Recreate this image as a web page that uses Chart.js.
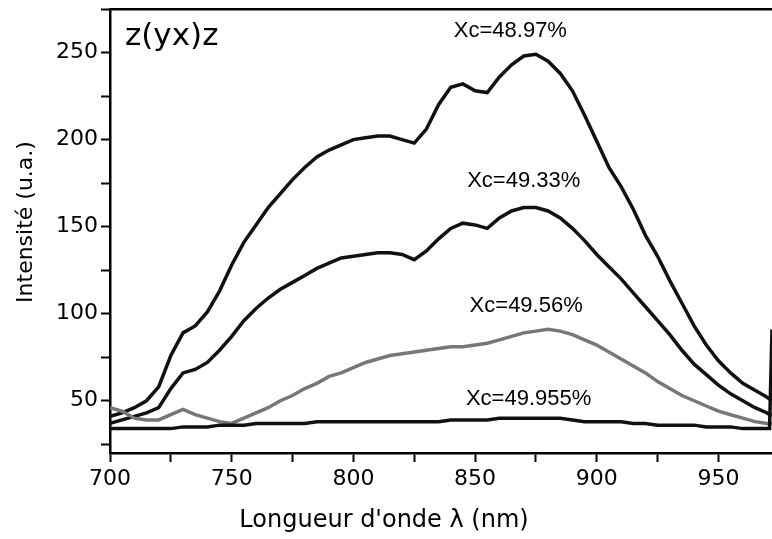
<!DOCTYPE html>
<html>
<head>
<meta charset="utf-8">
<script src="https://cdn.jsdelivr.net/npm/chart.js@4.4.0/dist/chart.umd.min.js"></script>
<style>
  html, body { margin: 0; padding: 0; background: #fff; }
  #wrap { width: 772px; height: 539px; }
</style>
</head>
<body>
<div id="wrap"><canvas id="chart"></canvas></div>
<script>
// longueurs d'onde (nm)
const wavelengths = [
  700, 705, 710, 715, 720, 725, 730, 735, 740, 745,
  750, 755, 760, 765, 770, 775, 780, 785, 790, 795,
  800, 805, 810, 815, 820, 825, 830, 835, 840, 845,
  850, 855, 860, 865, 870, 875, 880, 885, 890, 895,
  900, 905, 910, 915, 920, 925, 930, 935, 940, 945,
  950, 955, 960, 965, 970, 971, 972
];

// intensités (u.a.)
const xc4897 = [
  41, 43, 46, 50, 58, 76, 89, 93, 101, 113,
  128, 141, 151, 161, 169, 177, 184, 190, 194, 197,
  200, 201, 202, 202, 200, 198, 206, 220, 230, 232,
  228, 227, 236, 243, 248, 249, 245, 238, 228, 214,
  199, 184, 173, 160, 145, 133, 119, 106, 93, 82,
  73, 66, 60, 56, 52, 51, 50
];
const xc4933 = [
  37, 39, 41, 43, 46, 57, 66, 68, 72, 79,
  87, 96, 103, 109, 114, 118, 122, 126, 129, 132,
  133, 134, 135, 135, 134, 131, 136, 143, 149, 152,
  151, 149, 155, 159, 161, 161, 159, 155, 149, 142,
  134, 127, 120, 112, 104, 96, 88, 79, 71, 65,
  59, 54, 50, 46, 43, 42, 42
];
const xc4956 = [
  46, 44, 40, 39, 39, 42, 45, 42, 40, 38,
  37, 40, 43, 46, 50, 53, 57, 60, 64, 66,
  69, 72, 74, 76, 77, 78, 79, 80, 81, 81,
  82, 83, 85, 87, 89, 90, 91, 90, 88, 85,
  82, 78, 74, 70, 66, 61, 57, 53, 50, 47,
  44, 42, 40, 38, 37, 37, 37
];
const xc49955 = [
  34, 34, 34, 34, 34, 34, 35, 35, 35, 36,
  36, 36, 37, 37, 37, 37, 37, 38, 38, 38,
  38, 38, 38, 38, 38, 38, 38, 38, 39, 39,
  39, 39, 40, 40, 40, 40, 40, 40, 39, 38,
  38, 38, 38, 37, 37, 36, 36, 36, 36, 35,
  35, 35, 34, 34, 34, 34, 91
];

const seriesNames = ["Xc=48.97%", "Xc=49.33%", "Xc=49.56%", "Xc=49.955%"];
const xTickLabels = [700, 750, 800, 850, 900, 950];
const yTickLabels = [50, 100, 150, 200, 250];
const sampleText = "z(yx)z";
const xTitle = "Longueur d'onde \u03bb (nm)";
const yTitle = "Intensit\u00e9 (u.a.)";

// où poser les étiquettes Xc (en coordonnées des axes)
const labelAnchors = [[864.5, 259], [870, 173], [871, 101], [872, 47.6]];

Chart.defaults.font.family = "'DejaVu Sans', sans-serif";
Chart.defaults.color = "#000";

function toPoints(values) {
  return wavelengths.map((w, i) => ({ x: w, y: values[i] }));
}

// pas de marge ajoutée par les étiquettes des bords
function fixPadding(s) {
  s.paddingTop = 0;
  s.paddingBottom = 0;
  s.paddingLeft = 0;
  s.paddingRight = 0;
}

const textPlugin = {
  id: "texts",
  afterDraw(chart) {
    const { ctx } = chart;
    const x = chart.scales.x;
    const y = chart.scales.y;
    ctx.save();
    ctx.fillStyle = "#000";
    ctx.textBaseline = "alphabetic";

    ctx.font = "31px 'DejaVu Sans'";
    ctx.textAlign = "left";
    ctx.fillText(sampleText, 125, 45);

    ctx.font = "22px 'Liberation Sans'";
    ctx.textAlign = "center";
    seriesNames.forEach((name, i) => {
      const [ax, ay] = labelAnchors[i];
      ctx.fillText(name, x.getPixelForValue(ax), y.getPixelForValue(ay));
    });

    ctx.font = "24px 'DejaVu Sans'";
    ctx.fillText(xTitle, 384, 527);

    ctx.font = "22px 'DejaVu Sans'";
    ctx.translate(32, 222);
    ctx.rotate(-Math.PI / 2);
    ctx.fillText(yTitle, 0, 0);
    ctx.restore();
  },
};

const lineStyle = (color, width) => ({
  borderColor: color,
  borderWidth: width,
  pointRadius: 0,
  tension: 0,
  fill: false,
});

new Chart(document.getElementById("chart"), {
  type: "line",
  data: {
    datasets: [
      { label: seriesNames[3], data: toPoints(xc49955), ...lineStyle("#111", 3.5) },
      { label: seriesNames[2], data: toPoints(xc4956), ...lineStyle("#777", 3.5) },
      { label: seriesNames[1], data: toPoints(xc4933), ...lineStyle("#111", 3.5) },
      { label: seriesNames[0], data: toPoints(xc4897), ...lineStyle("#111", 3.5) },
    ],
  },
  options: {
    responsive: true,
    maintainAspectRatio: false,
    animation: false,
    layout: { padding: 0 },
    plugins: {
      legend: { display: false },
      tooltip: { enabled: false },
    },
    scales: {
      x: {
        type: "linear",
        min: 700,
        max: 972,
        afterFit: (s) => { s.height = 86; fixPadding(s); },
        border: { display: true, color: "#000", width: 2.5 },
        grid: { drawOnChartArea: false, drawTicks: true, tickLength: 9, tickColor: "#000", tickWidth: 2 },
        ticks: {
          stepSize: 25,
          includeBounds: false,
          maxRotation: 0,
          padding: 4,
          font: { size: 22 },
          callback: (v) => (xTickLabels.includes(v) ? String(v) : ""),
        },
      },
      x2: {
        type: "linear",
        position: "top",
        afterFit: (s) => { s.height = 9; fixPadding(s); },
        border: { display: true, color: "#000", width: 2.5 },
        grid: { display: false },
        ticks: { display: false },
      },
      y: {
        type: "linear",
        min: 20,
        max: 275,
        afterFit: (s) => { s.width = 110; fixPadding(s); },
        border: { display: true, color: "#000", width: 2.5 },
        grid: { drawOnChartArea: false, drawTicks: true, tickLength: 9, tickColor: "#000", tickWidth: 2 },
        ticks: {
          stepSize: 25,
          includeBounds: false,
          padding: 3,
          font: { size: 22 },
          callback: (v) => (yTickLabels.includes(v) ? String(v) : ""),
        },
      },
    },
  },
  plugins: [textPlugin],
});
</script>
</body>
</html>
